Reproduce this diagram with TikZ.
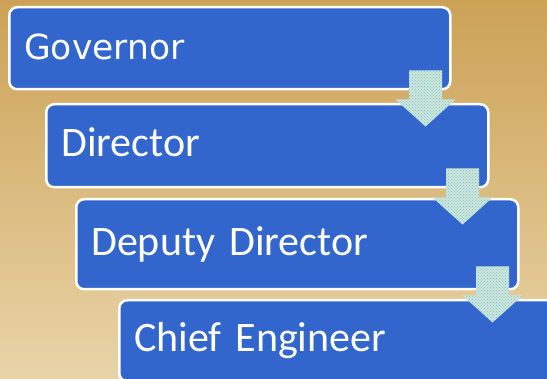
\documentclass[tikz,border=0pt]{standalone}
\usepackage{fontspec}
\setmainfont{Carlito}
\newfontfamily\govfont{DejaVu Sans}
\usetikzlibrary{calc,patterns}
\definecolor{boxblue}{RGB}{51,102,204}
\definecolor{mint}{RGB}{200,232,215}
\definecolor{dotblue}{RGB}{150,180,225}
\definecolor{bgtop}{RGB}{204,162,86}
\definecolor{bgbot}{RGB}{233,212,168}
\tikzset{
  orgbox/.style={draw=white, line width=2.5pt, fill=boxblue, rounded corners=8pt,
    anchor=north west, inner xsep=15pt, inner ysep=0pt, align=left,
    text=white, text height=26pt, text depth=4pt},
  flowarrow/.pic={
    \fill[mint] (-16.5,-20) -- (16.5,-20) -- (16.5,9) -- (30,9) -- (0,36)
      -- (-30,9) -- (-16.5,9) -- cycle;
    \fill[pattern=crosshatch dots, pattern color=dotblue] (-16.5,-20) -- (16.5,-20)
      -- (16.5,9) -- (30,9) -- (0,36) -- (-30,9) -- (-16.5,9) -- cycle;
  }
}
\begin{document}
\begin{tikzpicture}[x=1pt,y=-1pt]
\useasboundingbox (0,0) rectangle (547,379);
\clip (0,0) rectangle (547,379);
\shade[top color=bgtop, bottom color=bgbot] (0,0) rectangle (547,379);
\node[orgbox, minimum width=441pt, minimum height=82pt, text width=411pt,
  font=\govfont\fontsize{34.5}{40}\selectfont] (b1) at (8,6) {Governor};
\node[orgbox, minimum width=442pt, minimum height=83pt, text width=412pt,
  font=\fontsize{42}{48}\selectfont] (b2) at (45,103) {Director};
\node[orgbox, minimum width=442pt, minimum height=90pt, text width=412pt,
  font=\fontsize{42}{48}\selectfont] (b3) at (75,198) {Deputy Director};
\node[orgbox, minimum width=442pt, minimum height=81pt, text width=412pt,
  font=\fontsize{42}{48}\selectfont] (b4) at (118,299) {Chief Engineer};
\pic at ($(b1.south east)+(-26,0)$) {flowarrow};
\pic at ($(b2.south east)+(-27,0)$) {flowarrow};
\pic at ($(b3.south east)+(-27,-4)$) {flowarrow};
\end{tikzpicture}
\end{document}
